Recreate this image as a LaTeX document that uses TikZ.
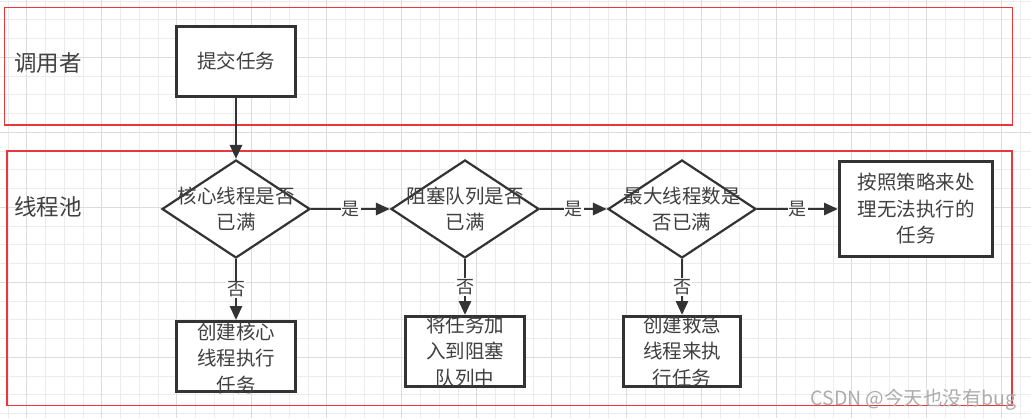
\documentclass[tikz,border=0pt]{standalone}
\usepackage{fontspec}
\setmainfont{Noto Sans CJK SC}
\usetikzlibrary{shapes.geometric,arrows.meta,positioning}

\definecolor{lanered}{HTML}{E8383D}
\definecolor{inkgray}{HTML}{333333}
\definecolor{textgray}{HTML}{404040}
\definecolor{gridminor}{HTML}{ECECEC}
\definecolor{gridmajor}{HTML}{DCDCDC}

\tikzset{
  lane/.style={draw=lanered, line width=1.2pt},
  lanelabel/.style={anchor=west, inner sep=0pt, text=textgray, font=\fontsize{22.5}{26}\selectfont},
  taskbox/.style={draw=inkgray, line width=3pt, fill=white, inner sep=0pt, minimum width=119pt, minimum height=70pt},
  boxtext/.style={align=center, inner sep=0pt, text=textgray, font=\fontsize{19.5}{26.5}\selectfont},
  decision/.style={diamond, draw=inkgray, line width=2.2pt, fill=white, inner sep=0pt, minimum width=148pt, minimum height=98pt},
  flow/.style={-{Triangle[length=14pt,width=12pt]}, draw=inkgray, line width=2.8pt},
  answer/.style={fill=white, inner sep=1pt, text=textgray, font=\fontsize{18}{20}\selectfont},
}

\begin{document}
\begin{tikzpicture}[x=1pt,y=-1pt]
  \useasboundingbox (0,0) rectangle (1031,418);
  \fill[white] (0,0) rectangle (1031,418);

  % background grid
  \foreach \gx in {0,...,54}
    \draw[gridminor, line width=1pt] ({8+18.75*\gx},0) -- ({8+18.75*\gx},418);
  \foreach \gy in {0,...,22}
    \draw[gridminor, line width=1pt] (0,{1+18.75*\gy}) -- (1031,{1+18.75*\gy});
  \foreach \gx in {1,5,...,53}
    \draw[gridmajor, line width=1pt] ({8+18.75*\gx},0) -- ({8+18.75*\gx},418);
  \foreach \gy in {3,7,...,19}
    \draw[gridmajor, line width=1pt] (0,{1+18.75*\gy}) -- (1031,{1+18.75*\gy});

  % swim lanes
  \draw[lane] (4.5,7.5) rectangle (1012.5,125);
  \draw[lane] (7,151) rectangle (1012,405.5);
  \node[lanelabel] (caller) at (14,63) {调用者};
  \node[lanelabel] (pool) at (14,207) {线程池};

  % nodes
  \node[taskbox, label={[boxtext]center:提交任务}] (submit) at (236,61.5) {};
  \node[decision, label={[boxtext]center:核心线程是否\\已满}] (corefull) at (236,209) {};
  \node[decision, label={[boxtext]center:阻塞队列是否\\已满}] (queuefull) at (465,209) {};
  \node[decision, label={[boxtext]center:最大线程数是\\否已满}] (maxfull) at (682,209) {};
  \node[taskbox, minimum width=153pt, minimum height=95pt,
        label={[boxtext]center:按照策略来处\\理无法执行的\\任务}] (reject) at (916,209) {};
  \node[taskbox, label={[boxtext, yshift=-2pt]center:创建核心\\线程执行\\任务}] (corerun) at (236,356.5) {};
  \node[taskbox, label={[boxtext]center:将任务加\\入到阻塞\\队列中}] (enqueue) at (465,351.5) {};
  \node[taskbox, minimum width=117pt, label={[boxtext]center:创建救急\\线程来执\\行任务}] (rescue) at (682,351.5) {};

  % connectors
  \draw[flow] (submit) -- (corefull);
  \draw[flow] (corefull) -- node[answer] {是} (queuefull);
  \draw[flow] (queuefull) -- node[answer] {是} (maxfull);
  \draw[flow] (maxfull) -- node[answer] {是} (reject);
  \draw[flow] (corefull) -- node[answer] {否} (corerun);
  \draw[flow] (queuefull) -- node[answer] {否} (enqueue);
  \draw[flow] (maxfull) -- node[answer] {否} (rescue);

  % watermark
  \node[anchor=base east, inner sep=0pt, text=gray!65, font=\fontsize{19.5}{22}\selectfont] (mark) at (1017,405) {CSDN @今天也没有bug};
\end{tikzpicture}
\end{document}
